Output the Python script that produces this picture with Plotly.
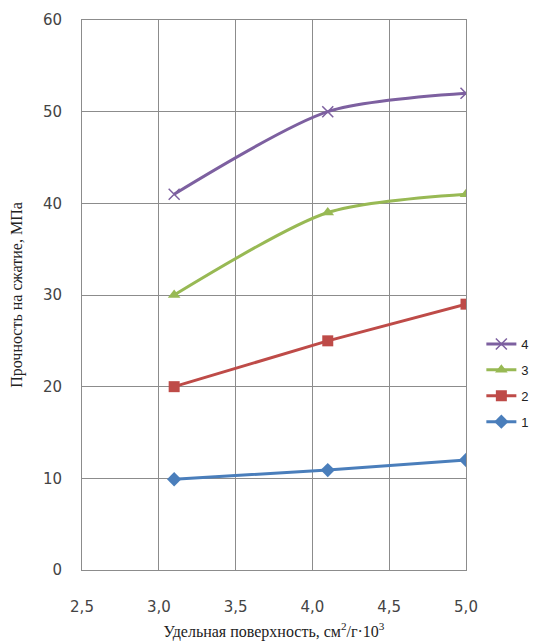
import plotly.graph_objects as go

x_vals = [3.1, 4.1, 5.0]
s1 = [9.9, 10.9, 12.0]
s2 = [20.0, 25.0, 29.0]
s3 = [30.0, 39.0, 41.0]
s4 = [41.0, 50.0, 52.0]
names = ["1", "2", "3", "4"]
colors = ["#4A7EBB", "#BE4B48", "#98B954", "#7D60A0"]
symbols = ["diamond", "square", "triangle-up", "x-thin"]
series = [s1, s2, s3, s4]
shapes = ["linear", "linear", "spline", "spline"]

fig = go.Figure()
items = list(zip(names, series, colors, symbols, shapes))[::-1]
for name, ys, c, sym, sh in items:
    fig.add_trace(go.Scatter(
        x=x_vals, y=ys, name=name, mode="lines+markers", legendgroup=name,
        line=dict(color=c, width=3, shape=sh, smoothing=0.75),
        marker=dict(symbol=sym, size=11, color=c,
                    line=dict(color=c, width=1.5 if sym == "x-thin" else 0)),
    ))

fig.update_layout(
    width=544, height=636,
    margin=dict(l=74, r=86, t=12, b=74),
    paper_bgcolor="white", plot_bgcolor="white",
    separators=", ",
    font=dict(family="DejaVu Sans", size=15, color="#333333"),
    legend=dict(traceorder="grouped", x=1.04, y=0.34, xanchor="left", yanchor="middle",
                font=dict(family="Liberation Sans", size=13, color="#222"),
                itemwidth=30, tracegroupgap=6),
    xaxis=dict(range=[2.5, 5.0], dtick=0.5, tick0=2.5, tickformat=".1f",
               showgrid=True, gridcolor="#8C8C8C", gridwidth=1,
               showline=True, linecolor="#8C8C8C", mirror=True, zeroline=False,
               ticks="outside", ticklen=23, tickcolor="rgba(0,0,0,0)",
               automargin=False,
               tickfont=dict(family="DejaVu Sans", size=15, color="#444"),
               title=dict(text="Удельная поверхность, см<sup>2</sup>/г·10<sup>3</sup>",
                          font=dict(family="Liberation Serif", size=16, color="#222"),
                          standoff=10)),
    yaxis=dict(range=[0, 60], dtick=10,
               showgrid=True, gridcolor="#8C8C8C", gridwidth=1,
               showline=True, linecolor="#8C8C8C", mirror=True, zeroline=False,
               ticks="outside", ticklen=16, tickcolor="rgba(0,0,0,0)",
               automargin=False,
               tickfont=dict(family="DejaVu Sans", size=15, color="#444"),
               title=dict(text="Прочность на сжатие, МПа",
                          font=dict(family="Liberation Serif", size=16, color="#222"),
                          standoff=16)),
)

fig.write_html("out.html")
